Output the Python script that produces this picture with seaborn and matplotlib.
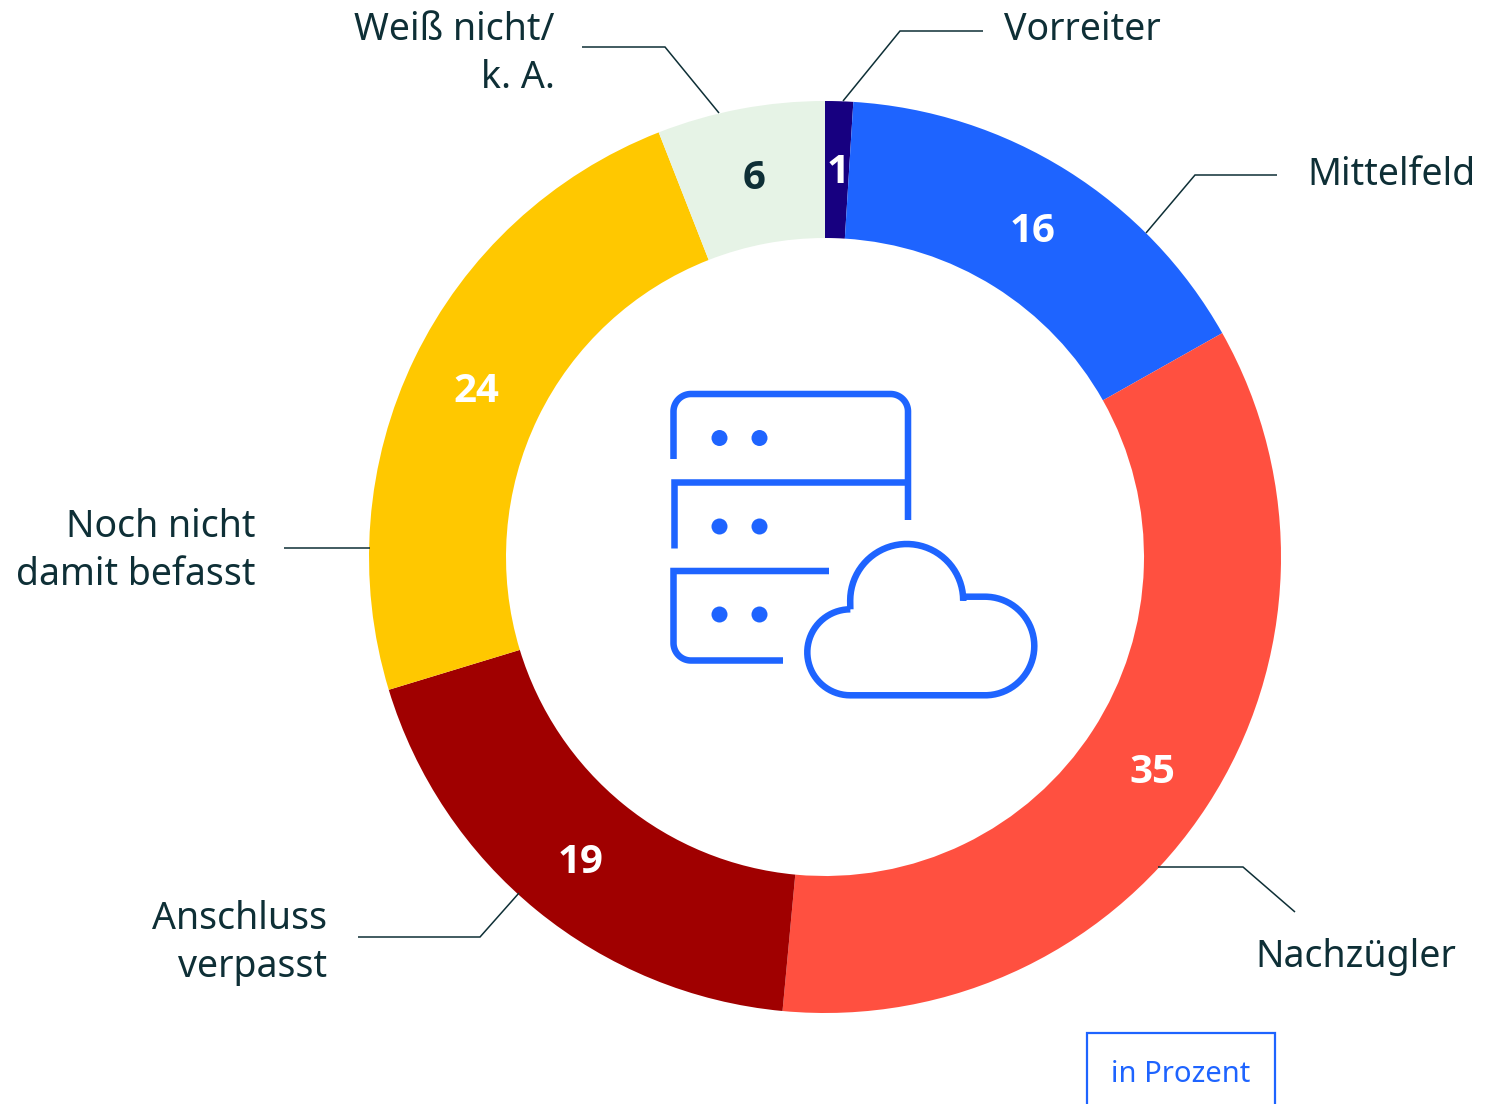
import numpy as np
import matplotlib
matplotlib.use("Agg")
import matplotlib.pyplot as plt
from matplotlib.path import Path
from matplotlib.patches import PathPatch, Circle, Rectangle
import seaborn as sns

categories = ["Vorreiter", "Mittelfeld", "Nachzügler", "Anschluss\nverpasst", "Noch nicht\ndamit befasst", "Weiß nicht/\nk. A."]
values = [1, 16, 35, 19, 24, 6]
colors = ["#170080", "#1E64FF", "#FF5040", "#A00000", "#FFC800", "#E6F3E6"]
value_text_colors = ["white", "white", "white", "white", "white", "#0E2F36"]
unit_label = "in Prozent"

INK = "#0E2F36"
BLUE = "#1E64FF"
FONT = "Noto Sans"
W, H = 1508, 1104

sns.set_theme(style="white")
plt.rcParams["font.family"] = [FONT, "DejaVu Sans"]

fig = plt.figure(figsize=(W / 100, H / 100), dpi=100)
ax = fig.add_axes([0, 0, 1, 1])


def Y(y):
    return H - y


total = sum(values)
wedges, _, autotexts = ax.pie(
    values,
    colors=sns.color_palette(colors),
    startangle=90,
    counterclock=False,
    center=(825, Y(557)),
    radius=456,
    wedgeprops=dict(width=137, linewidth=0),
    autopct=lambda p: f"{round(p * total / 100)}",
    pctdistance=389 / 456,
)
for t, c in zip(autotexts, value_text_colors):
    t.set(color=c, fontsize=29, family=["Open Sans", "DejaVu Sans"], fontweight="bold")
    x, y = t.get_position()
    t.set_position((x + 1, y - 4))

ax.set_xlim(0, W)
ax.set_ylim(0, H)
ax.set_aspect("equal")
ax.axis("off")

# outer labels: (x, first baseline, horizontal alignment)
label_anchor = [(1004, 40, "left"), (1307, 185, "left"), (1255, 967, "left"),
                (327, 929, "right"), (256, 537, "right"), (555, 40, "right")]
leaders = [
    [(983, 31), (900, 31), (843, 101)],
    [(1277, 175), (1195, 175), (1146, 233)],
    [(1158, 867), (1243, 867), (1295, 912)],
    [(358, 937), (480, 937), (519, 893)],
    [(284, 548), (370, 548)],
    [(582, 47), (665, 47), (719, 113)],
]
for name, (x, y, ha), pts in zip(categories, label_anchor, leaders):
    for i, line in enumerate(name.split("\n")):
        ax.text(x, Y(y + 48 * i), line, ha=ha, va="baseline", fontsize=27, color=INK)
    xs, ys = zip(*pts)
    ax.plot(xs, [Y(v) for v in ys], color=INK, lw=1.1, solid_joinstyle="miter", solid_capstyle="butt")

# unit box, cut by the lower figure edge
ax.add_patch(Rectangle((1087, Y(1120)), 188, 87, fill=False, edgecolor=BLUE, linewidth=1.6, clip_on=True))
ax.text(1181, Y(1082), unit_label, ha="center", va="baseline", fontsize=21, color=BLUE)


# server + cloud icon
def arc(cx, cy, r, a0, a1, n=40):
    a = np.radians(np.linspace(a0, a1, n))
    return [(cx + r * np.cos(t), cy - r * np.sin(t)) for t in a]


strokes = [
    [(673.5, 459)] + arc(691, 411.5, 17.5, 180, 90) + arc(890.5, 411.5, 17.5, 90, 0) + [(908, 520)],
    [(673.5, 548), (673.5, 482), (908, 482)],
    [(829, 571), (673.5, 571)] + arc(691, 643, 17.5, 180, 270) + [(783, 660.5)],
    arc(850.3, 652.3, 43, 90, 270) + arc(985, 646, 49.3, 270, 360) + arc(985, 646, 49.3, 0, 90)
    + [(963.5, 596.7)] + arc(906.7, 600.5, 56.5, 0, 180) + [(850.3, 609.3)],
]
for s in strokes:
    p = np.array(s)
    p[:, 1] = H - p[:, 1]
    ax.add_patch(PathPatch(Path(p), fill=False, edgecolor=BLUE, linewidth=4.7,
                           capstyle="butt", joinstyle="miter"))
for dy in (438, 526.5, 614.5):
    for dx in (719.5, 759.5):
        ax.add_patch(Circle((dx, Y(dy)), 8, color=BLUE, linewidth=0))

fig.savefig("out.png", dpi=100, facecolor="white")
